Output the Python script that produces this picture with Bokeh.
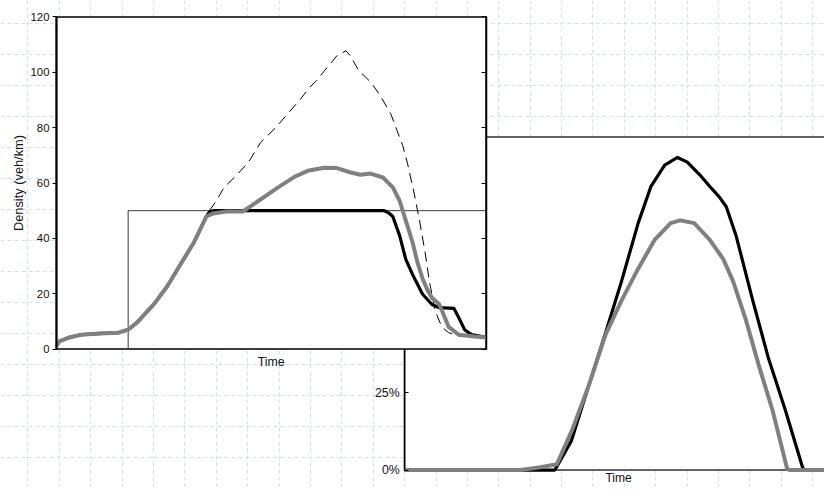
import math
from bokeh.plotting import figure
from bokeh.models import (Range1d, LinearAxis, FixedTicker, Grid,
                          PrintfTickFormatter, CustomJSTickFormatter)
from bokeh.core.properties import value
from bokeh.embed import file_html
from bokeh.resources import INLINE

# ---------------- data ----------------
# Panel 1: density (veh/km) against time (relative units 0..100)
p1_gray_t = [0, 0.7, 3.0, 5.9, 9.8, 14.4, 16.7, 18.9, 22.8, 25.8, 28.8, 32.0, 34.9,
             36.5, 39.5, 43.4, 47.0, 51.6, 55.5, 58.5, 62.3, 65.3, 68.5, 70.8, 73.1,
             76.0, 78.3, 79.9, 81.3, 82.9, 84.0, 85.2, 86.3, 87.4, 89.0, 89.7, 91.3,
             93.6, 97.3, 100]
p1_gray_d = [1.0, 2.8, 4.2, 5.2, 5.6, 5.9, 7.0, 9.8, 16.4, 22.7, 30.4, 38.5, 47.9,
             49.0, 49.7, 49.7, 53.5, 58.4, 62.3, 64.4, 65.5, 65.4, 63.8, 63.0, 63.4,
             62.0, 58.4, 53.5, 46.5, 38.5, 31.5, 25.5, 21.5, 18.5, 16.4, 14.0, 8.0,
             5.2, 4.5, 4.2]

p1_black_t = [0, 0.7, 3.0, 5.9, 9.8, 14.4, 16.7, 18.9, 22.8, 25.8, 28.8, 32.0, 34.9,
              35.6, 36.5, 76.3, 77.5, 78.3, 79.9, 81.3, 82.9, 85.2, 87.4, 89.0, 92.5,
              93.6, 95.0, 96.6, 100]
p1_black_d = [1.0, 2.8, 4.2, 5.2, 5.6, 5.9, 7.0, 9.8, 16.4, 22.7, 30.4, 38.5, 47.9,
              49.5, 50.0, 50.0, 49.0, 47.9, 40.9, 32.5, 26.9, 19.9, 16.1, 15.0, 14.7,
              11.5, 7.0, 5.2, 4.2]

p1_dash_t = [35.6, 37.2, 39.0, 41.8, 44.7, 47.5, 50.9, 56.8, 58.9, 60.5, 62.3, 65.3,
             67.4, 68.5, 70.3, 73.3, 75.6, 77.9, 80.6, 81.7, 83.3, 84.5, 85.8, 86.8,
             88.1, 89.7, 91.3, 94.3]
p1_dash_d = [50.0, 53.5, 58.4, 62.6, 67.5, 74.6, 79.8, 90.3, 94.5, 96.9, 100.4, 106.0,
             107.8, 105.7, 100.8, 96.2, 91.0, 84.7, 73.5, 67.2, 56.0, 46.5, 35.0, 24.5,
             14.0, 8.0, 5.9, 4.5]

# critical-density box drawn inside panel 1
p1_box_t = [16.7, 16.7, 100]
p1_box_d = [0, 50, 50]

p1_ticks = [0, 20, 40, 60, 80, 100, 120]
p1_ylabel = "Density (veh/km)"
p1_xlabel = "Time"

# Panel 2: share (%) against time (relative units 0..100)
p2_black_t = [0, 35.1, 35.6, 39.0, 43.1, 47.0, 50.7, 54.6, 57.6, 60.8, 63.8, 66.1,
              69.0, 71.3, 73.6, 75.2, 77.5, 81.4, 85.1, 89.0, 93.1, 93.6, 100]
p2_black_p = [0, 0, 1.2, 9.5, 27.5, 44.4, 60.9, 79.7, 91.6, 98.4, 100.9, 99.4,
              95.3, 91.6, 88.1, 85.0, 75.6, 54.7, 35.9, 19.4, 0.6, 0, 0]

p2_gray_t = [0, 27.1, 31.7, 35.6, 39.2, 43.1, 47.0, 50.7, 54.6, 58.5, 62.2, 64.4,
             67.7, 71.3, 74.5, 76.8, 79.8, 82.8, 86.0, 89.4, 89.9, 100]
p2_gray_p = [0, 0, 0.9, 1.9, 13.1, 27.5, 43.8, 54.7, 65.0, 74.4, 79.7, 80.6,
             79.7, 74.4, 68.1, 60.9, 48.4, 33.8, 19.4, 0.6, 0, 0]

p2_ticks = [0, 25, 50, 75, 100]
p2_xlabel = "Time"

# background grid (cell indices)
grid_x = list(range(-1, 27))
grid_y = list(range(-1, 16))

# ---------------- layout (reference pixels) ----------------
W, H = 824, 487
FX0, FX1 = 0, 840          # frame left/right in reference pixels
FY_TOP, FY_BOT = 0, 503    # frame top/bottom in reference pixels
SC = W / FX1               # font scale

P1_X = (57, 495)           # t = 0 .. 100
P1_Y = (360, 17)           # density 0 .. 120
P2_X = (412, 848)          # t = 0 .. 100
P2_Y = (485, 165)          # 0 .. 100 %
P2_TOP = 107.5             # top edge of panel 2 (in %)

FONT = "Liberation Sans"
TXT = "#111111"
GRAY = "#808080"


def fs(px):
    return f"{px * SC:.1f}px"


def rng(v0, v1, px0, px1, f_lo, f_hi):
    k = (v1 - v0) / (px1 - px0)
    return Range1d(start=v0 + (f_lo - px0) * k, end=v0 + (f_hi - px0) * k)


def to_val(v0, v1, px0, px1, px):
    return v0 + (px - px0) * (v1 - v0) / (px1 - px0)


p = figure(width=W, height=H,
           x_range=rng(0, 1, 28, 60, FX0, FX1),
           y_range=rng(0, 1, 472, 440, FY_BOT, FY_TOP),
           x_axis_type=None, y_axis_type=None,
           toolbar_location=None, output_backend="svg",
           min_border=0, outline_line_color=None,
           background_fill_color="white", border_fill_color="white")

p.extra_x_ranges = {"t1": rng(0, 100, P1_X[0], P1_X[1], FX0, FX1),
                    "t2": rng(0, 100, P2_X[0], P2_X[1], FX0, FX1)}
p.extra_y_ranges = {"dens": rng(0, 120, P1_Y[0], P1_Y[1], FY_BOT, FY_TOP),
                    "pct": rng(0, 100, P2_Y[0], P2_Y[1], FY_BOT, FY_TOP)}

# background grid
for dim, ticks in ((0, grid_x), (1, grid_y)):
    g = Grid(dimension=dim, ticker=FixedTicker(ticks=ticks),
             grid_line_color="#d5ddf5", grid_line_dash="4 3", grid_line_width=1)
    p.add_layout(g)

# ---------------- panel 2 (behind) ----------------
p.quad(left=[0], right=[100], bottom=[0], top=[P2_TOP],
       x_range_name="t2", y_range_name="pct",
       fill_color="white", line_color="#333333", line_width=1.5)
p.line(p2_black_t, p2_black_p, x_range_name="t2", y_range_name="pct",
       line_color="black", line_width=3.2, line_join="round")
p.line(p2_gray_t, p2_gray_p, x_range_name="t2", y_range_name="pct",
       line_color=GRAY, line_width=4, line_join="round")

p2_visible_max = to_val(0, 100, P2_Y[0], P2_Y[1], P1_Y[0])
ax2 = LinearAxis(x_range_name="t2", y_range_name="pct", fixed_location=0,
                 bounds=(0, p2_visible_max),
                 ticker=FixedTicker(ticks=[t for t in p2_ticks if t <= p2_visible_max]),
                 formatter=PrintfTickFormatter(format="%d%%"),
                 major_tick_in=4, major_tick_out=0, minor_tick_in=0, minor_tick_out=0,
                 axis_line_width=1.5, axis_line_color="black",
                 major_tick_line_color="black",
                 major_label_standoff=5,
                 major_label_text_font=FONT, major_label_text_font_size=fs(12.5),
                 major_label_text_color=TXT)
p.add_layout(ax2, "left")

p.text(x=[50], y=[to_val(0, 100, P2_Y[0], P2_Y[1], 493)], text=[p2_xlabel],
       x_range_name="t2", y_range_name="pct",
       text_font=value(FONT), text_font_size=fs(12.2), text_color=TXT,
       text_align="center", text_baseline="middle")

# ---------------- panel 1 (front) ----------------
p.quad(left=[0], right=[100], bottom=[0], top=[120],
       x_range_name="t1", y_range_name="dens",
       fill_color="white", line_color="black", line_width=1.6)
p.line(p1_box_t, p1_box_d, x_range_name="t1", y_range_name="dens",
       line_color="#3a3a3a", line_width=1)
p.line(p1_dash_t, p1_dash_d, x_range_name="t1", y_range_name="dens",
       line_color="black", line_width=1, line_dash="10 6")
p.line(p1_black_t, p1_black_d, x_range_name="t1", y_range_name="dens",
       line_color="black", line_width=3.2, line_join="round")
p.line(p1_gray_t, p1_gray_d, x_range_name="t1", y_range_name="dens",
       line_color=GRAY, line_width=4, line_join="round")

ax1 = LinearAxis(x_range_name="t1", y_range_name="dens", fixed_location=0,
                 bounds=(0, 120), ticker=FixedTicker(ticks=p1_ticks),
                 major_tick_in=0, major_tick_out=4, minor_tick_in=0, minor_tick_out=0,
                 axis_line_width=2, axis_line_color="black",
                 major_tick_line_color="black",
                 major_label_standoff=3,
                 major_label_text_font=FONT, major_label_text_font_size=fs(11.5),
                 major_label_text_color=TXT)
p.add_layout(ax1, "left")

ax1r = LinearAxis(x_range_name="t1", y_range_name="dens", fixed_location=100,
                  bounds=(0, 120), ticker=FixedTicker(ticks=p1_ticks),
                  formatter=CustomJSTickFormatter(code="return ''"),
                  major_tick_in=5, major_tick_out=0, minor_tick_in=0, minor_tick_out=0,
                  axis_line_width=1.5, axis_line_color="black",
                  major_tick_line_color="black")
p.add_layout(ax1r, "right")

p.text(x=[to_val(0, 100, P1_X[0], P1_X[1], 18)], y=[60], text=[p1_ylabel],
       x_range_name="t1", y_range_name="dens", angle=math.pi / 2,
       text_font=value(FONT), text_font_size=fs(13), text_color=TXT,
       text_align="center", text_baseline="middle")
p.text(x=[50], y=[to_val(0, 120, P1_Y[0], P1_Y[1], 373)], text=[p1_xlabel],
       x_range_name="t1", y_range_name="dens",
       text_font=value(FONT), text_font_size=fs(12.5), text_color=TXT,
       text_align="center", text_baseline="middle")

open("out.html", "w").write(file_html(p, INLINE))
